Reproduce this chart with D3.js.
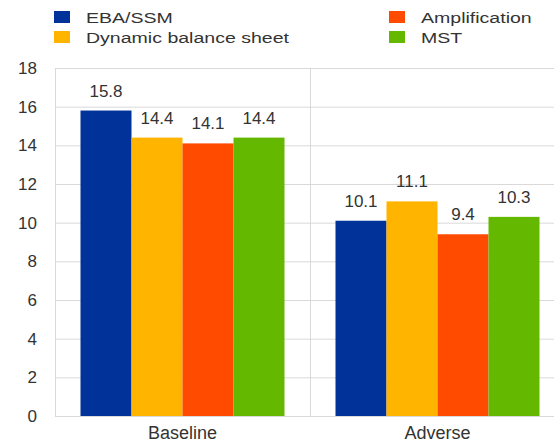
<!DOCTYPE html>
<html>
<head>
<meta charset="utf-8">
<script src="https://cdn.jsdelivr.net/npm/d3@7"></script>
<style>
  html, body { margin: 0; padding: 0; background: #fff; }
  svg { display: block; font-family: "Liberation Sans", Arial, sans-serif; }
</style>
</head>
<body>
<svg id="chart" width="554" height="442"></svg>
<script>
const categories = ["Baseline", "Adverse"];
const seriesNames = ["EBA/SSM", "Dynamic balance sheet", "Amplification", "MST"];
const seriesColors = ["#003299", "#FFB400", "#FF4B00", "#65B800"];
const ebaSsm = [15.8, 10.1];
const dynamicBalanceSheet = [14.4, 11.1];
const amplification = [14.1, 9.4];
const mst = [14.4, 10.3];
const yTicks = [0, 2, 4, 6, 8, 10, 12, 14, 16, 18];

const seriesValues = [ebaSsm, dynamicBalanceSheet, amplification, mst];
const data = categories.map((c, ci) => ({
  category: c,
  values: seriesNames.map((s, si) => ({ series: s, si, value: seriesValues[si][ci] }))
}));

const svg = d3.select("#chart");
const plotLeft = 55, plotRight = 565, plotTop = 68, plotBottom = 416;

const x0 = d3.scaleBand().domain(categories).range([plotLeft, plotRight]).paddingInner(0).paddingOuter(0);
const x1 = d3.scaleBand().domain(seriesNames).range([0, x0.bandwidth()]).paddingInner(0).paddingOuter(0.5);
const y = d3.scaleLinear().domain([0, 18]).range([plotBottom, plotTop]);

const gridColor = "#d9d9d9";
const textColor = "#333333";

// gridlines
svg.append("g").selectAll("line").data(yTicks).join("line")
  .attr("x1", plotLeft).attr("x2", plotRight)
  .attr("y1", d => y(d) + 0.5).attr("y2", d => y(d) + 0.5)
  .attr("stroke", gridColor).attr("stroke-width", 1);

// left axis line and group dividers
svg.append("line").attr("x1", plotLeft + 0.5).attr("x2", plotLeft + 0.5)
  .attr("y1", y(18)).attr("y2", y(0)).attr("stroke", gridColor);
svg.append("g").selectAll("line").data(categories.slice(1)).join("line")
  .attr("x1", d => x0(d) + 0.5).attr("x2", d => x0(d) + 0.5)
  .attr("y1", y(18)).attr("y2", y(0)).attr("stroke", gridColor);

// y axis labels
const yAxis = d3.axisLeft(y).tickValues(yTicks).tickSize(0).tickPadding(0).tickFormat(d3.format("d"));
const gy = svg.append("g").attr("transform", `translate(37,0)`).call(yAxis);
gy.select(".domain").remove();
gy.selectAll("text").attr("font-size", 17).attr("fill", textColor)
  .attr("font-family", "Liberation Sans, Arial, sans-serif");

// x axis labels
const xAxis = d3.axisBottom(x0).tickSize(0).tickPadding(0);
const gx = svg.append("g").attr("transform", `translate(0,${plotBottom})`).call(xAxis);
gx.select(".domain").remove();
gx.selectAll("text").attr("font-size", 18).attr("fill", textColor)
  .attr("dy", null).attr("y", 23)
  .attr("font-family", "Liberation Sans, Arial, sans-serif");

// bars
const groups = svg.append("g").selectAll("g").data(data).join("g")
  .attr("transform", d => `translate(${x0(d.category)},0)`);
groups.selectAll("rect").data(d => d.values).join("rect")
  .attr("x", d => x1(d.series))
  .attr("width", x1.bandwidth())
  .attr("y", d => y(d.value))
  .attr("height", d => y(0) - y(d.value))
  .attr("fill", d => seriesColors[d.si]);
groups.selectAll("text").data(d => d.values).join("text")
  .attr("x", d => x1(d.series) + x1.bandwidth() / 2)
  .attr("y", d => y(d.value) - 14)
  .attr("text-anchor", "middle")
  .attr("font-size", 17)
  .attr("fill", textColor)
  .text(d => d3.format(".1f")(d.value));

// legend
const legendPos = [
  { x: 54, y: 11 }, { x: 54, y: 31 }, { x: 389, y: 11 }, { x: 389, y: 31 }
];
const legendOrder = [0, 1, 2, 3];
const lg = svg.append("g").selectAll("g").data(legendOrder).join("g")
  .attr("transform", (d, i) => `translate(${legendPos[i].x},${legendPos[i].y})`);
lg.append("rect").attr("width", 16).attr("height", 12).attr("fill", d => seriesColors[d]);
lg.append("text").attr("x", 32).attr("y", 11.5)
  .attr("font-size", 15.5).attr("fill", textColor)
  .text(d => seriesNames[d])
  .each(function() {
    const w = this.getComputedTextLength();
    d3.select(this).attr("textLength", w * 1.26).attr("lengthAdjust", "spacingAndGlyphs");
  });
</script>
</body>
</html>
